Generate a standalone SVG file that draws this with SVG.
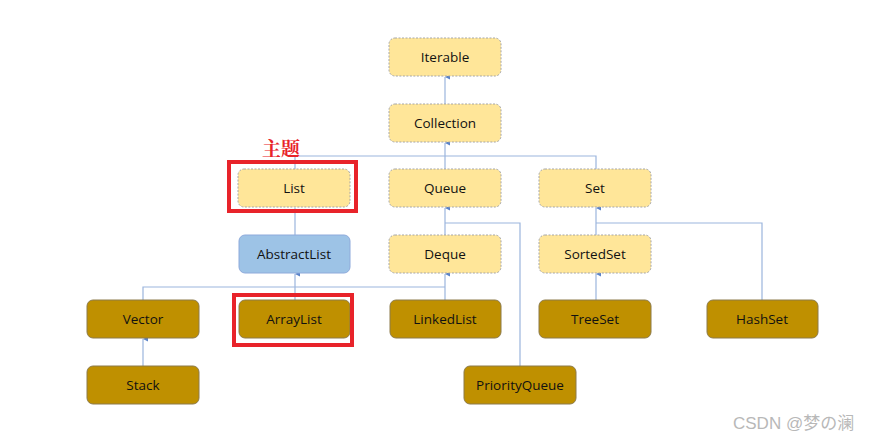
<svg xmlns="http://www.w3.org/2000/svg" width="880" height="442" viewBox="0 0 880 442">
<style>
.iface{fill:#FFE699;stroke:#A6A6A6;stroke-width:1;stroke-dasharray:2 1.5}
.cls{fill:#BF9000;stroke:#8C7A4A;stroke-width:1}
.abs{fill:#9DC3E6;stroke:#8EAADB;stroke-width:1}
.lbl{font-family:"Open Sans","Noto Sans",sans-serif;font-size:13.5px;fill:#111;text-anchor:middle}
.ln{fill:none;stroke:#9BB5DD;stroke-width:1.2}
.hl{fill:none;stroke:#E8232A;stroke-width:4}
</style>
<defs>
<marker id="ar" viewBox="0 0 6 6" refX="3" refY="0" markerWidth="5" markerHeight="5" orient="auto-start-reverse" markerUnits="userSpaceOnUse">
<path d="M0,6 L3,0 L6,6 Z" fill="#5B83C8"/>
</marker>
</defs>
<rect width="880" height="442" fill="#fff"/>
<g id="connectors">
<path class="ln" d="M445,104 V77" marker-end="url(#ar)"/>
<path class="ln" d="M445,156 V143" marker-end="url(#ar)"/>
<path class="ln" d="M295,169 V156 H596 V169 M445,156 V169"/>
<path class="ln" d="M295,235 V208"/>
<path class="ln" d="M445,235 V208" marker-end="url(#ar)"/>
<path class="ln" d="M520,366 V223 H445"/>
<path class="ln" d="M596,235 V208" marker-end="url(#ar)"/>
<path class="ln" d="M762,300 V223 H596"/>
<path class="ln" d="M295,300 V274" marker-end="url(#ar)"/>
<path class="ln" d="M143,300 V287 H445"/>
<path class="ln" d="M445,300 V274" marker-end="url(#ar)"/>
<path class="ln" d="M596,300 V274" marker-end="url(#ar)"/>
<path class="ln" d="M143,366 V339" marker-end="url(#ar)"/>
</g>
<g id="Iterable"><rect class="iface" x="389" y="38" width="112" height="38" rx="6"/><text class="lbl" x="445" y="62">Iterable</text></g>
<g id="Collection"><rect class="iface" x="389" y="104" width="112" height="38" rx="6"/><text class="lbl" x="445" y="128">Collection</text></g>
<g id="List"><rect class="iface" x="238" y="169" width="112" height="38" rx="6"/><text class="lbl" x="294" y="193">List</text></g>
<g id="Queue"><rect class="iface" x="389" y="169" width="112" height="38" rx="6"/><text class="lbl" x="445" y="193">Queue</text></g>
<g id="Set"><rect class="iface" x="539" y="169" width="112" height="38" rx="6"/><text class="lbl" x="595" y="193">Set</text></g>
<g id="AbstractList"><rect class="abs" x="239" y="235" width="111" height="38" rx="6"/><text class="lbl" x="294" y="259">AbstractList</text></g>
<g id="Deque"><rect class="iface" x="389" y="235" width="112" height="38" rx="6"/><text class="lbl" x="445" y="259">Deque</text></g>
<g id="SortedSet"><rect class="iface" x="539" y="235" width="112" height="38" rx="6"/><text class="lbl" x="595" y="259">SortedSet</text></g>
<g id="Vector"><rect class="cls" x="87" y="300" width="112" height="38" rx="6"/><text class="lbl" x="143" y="324">Vector</text></g>
<g id="ArrayList"><rect class="cls" x="239" y="300" width="111" height="38" rx="6"/><text class="lbl" x="294" y="324">ArrayList</text></g>
<g id="LinkedList"><rect class="cls" x="390" y="300" width="111" height="38" rx="6"/><text class="lbl" x="445" y="324">LinkedList</text></g>
<g id="TreeSet"><rect class="cls" x="539" y="300" width="112" height="38" rx="6"/><text class="lbl" x="595" y="324">TreeSet</text></g>
<g id="HashSet"><rect class="cls" x="707" y="300" width="111" height="38" rx="6"/><text class="lbl" x="762" y="324">HashSet</text></g>
<g id="Stack"><rect class="cls" x="87" y="366" width="112" height="38" rx="6"/><text class="lbl" x="143" y="390">Stack</text></g>
<g id="PriorityQueue"><rect class="cls" x="464" y="366" width="112" height="38" rx="6"/><text class="lbl" x="520" y="390">PriorityQueue</text></g>
<g id="highlights">
<rect class="hl" x="229" y="162" width="127" height="49"/>
<rect class="hl" x="234" y="295" width="118" height="50"/>
<text x="262" y="156" font-family="'Noto Serif CJK SC','Noto Sans CJK SC',serif" font-size="19" font-weight="bold" fill="#E8232A">主题</text>
</g>
<text x="733" y="429" font-family="'Liberation Sans','Noto Sans CJK SC',sans-serif" font-size="17" fill="#B8B8B8">CSDN @梦の澜</text>
</svg>
